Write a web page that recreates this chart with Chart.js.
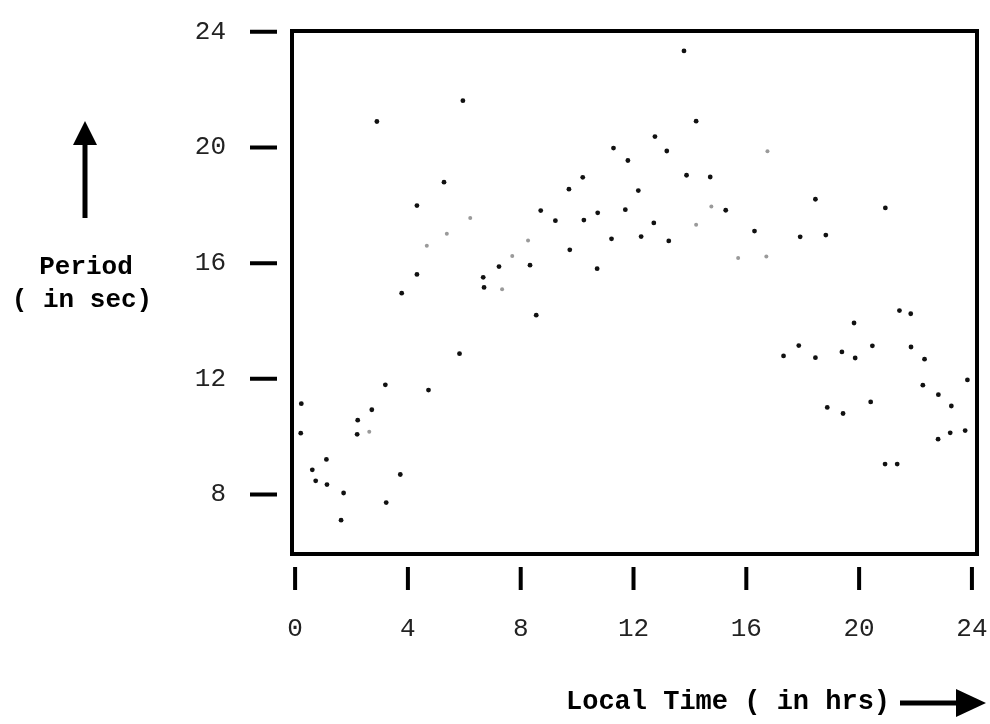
<!DOCTYPE html>
<html>
<head>
<meta charset="utf-8">
<title>Period vs Local Time</title>
<script src="https://cdn.jsdelivr.net/npm/chart.js@4.4.1/dist/chart.umd.min.js"></script>
<style>
    html, body { margin: 0; padding: 0; background: #ffffff; }
    #wrap { width: 990px; height: 724px; position: relative; }
</style>
</head>
<body>
<div id="wrap"><canvas id="periodChart"></canvas></div>
<script>
// Tick labels
const xTicks = [0, 4, 8, 12, 16, 20, 24];
const yTicks = [8, 12, 16, 20, 24];

// Dark points: local time (hrs) and period (sec)
const darkHours = [
    5.95, 2.90, 11.29, 11.80, 10.20, 9.71, 5.28, 4.32, 8.71, 9.23,
    10.24, 10.73, 11.71, 11.22, 9.74, 8.33, 10.71, 7.23, 4.32, 6.67,
    6.70, 3.78, 8.55, 5.83, 3.20, 4.73, 0.22, 2.72, 2.22, 0.20,
    2.20, 1.11, 0.61, 0.73, 1.13, 1.72, 3.73, 3.23, 1.63, 13.79,
    14.22, 12.76, 13.18, 13.88, 14.72, 12.17, 15.27, 18.45, 20.93, 12.72,
    12.27, 13.25, 16.29, 17.91, 18.82, 21.43, 21.83, 19.82, 17.86, 17.32,
    18.45, 19.39, 19.86, 20.47, 21.84, 22.32, 23.84, 22.26, 22.81, 23.27,
    20.41, 18.87, 19.43, 23.76, 23.23, 22.80, 20.92, 21.35
];
const darkPeriods = [
    21.62, 20.90, 19.98, 19.55, 18.97, 18.56, 18.80, 17.99, 17.82, 17.47,
    17.49, 17.74, 17.85, 16.84, 16.46, 15.93, 15.81, 15.88, 15.61, 15.51,
    15.16, 14.96, 14.20, 12.87, 11.79, 11.61, 11.14, 10.93, 10.57, 10.12,
    10.08, 9.21, 8.85, 8.47, 8.34, 8.05, 8.69, 7.72, 7.11, 23.34,
    20.91, 20.38, 19.88, 19.04, 18.98, 18.51, 17.83, 18.21, 17.91, 17.39,
    16.92, 16.77, 17.11, 16.91, 16.97, 14.36, 14.25, 13.93, 13.15, 12.79,
    12.73, 12.93, 12.72, 13.14, 13.10, 12.68, 11.96, 11.78, 11.45, 11.06,
    11.20, 11.01, 10.80, 10.21, 10.13, 9.91, 9.05, 9.05
];

// Faint (lightly printed) points
const faintHours = [6.21, 5.38, 4.67, 8.26, 7.70, 7.34, 2.63, 16.75, 14.76, 14.22, 15.71, 16.71];
const faintPeriods = [17.56, 17.02, 16.60, 16.78, 16.25, 15.10, 10.17, 19.87, 17.96, 17.33, 16.18, 16.23];

function toPoints(xs, ys) {
    return xs.map((x, i) => ({ x: x, y: ys[i] }));
}

const FONT = '"Liberation Mono", "DejaVu Sans Mono", monospace';

// Keep the big label padding from eating into the chart area
function clearPadding(scale) {
    scale.paddingLeft = 0;
    scale.paddingRight = 0;
    scale.paddingTop = 0;
    scale.paddingBottom = 0;
}

// Thick frame, detached tick marks, axis titles with arrows
const framePlugin = {
    id: 'frame',
    beforeDatasetsDraw(chart) {
        const ctx = chart.ctx;
        const a = chart.chartArea;
        ctx.save();
        ctx.strokeStyle = '#000';
        ctx.lineWidth = 4;
        ctx.strokeRect(a.left, a.top, a.right - a.left, a.bottom - a.top);

        // y tick dashes left of the frame
        const ys = chart.scales.y;
        ctx.lineWidth = 4;
        ctx.beginPath();
        yTicks.forEach(v => {
            const py = ys.getPixelForValue(v);
            ctx.moveTo(a.left - 42, py);
            ctx.lineTo(a.left - 15, py);
        });
        // x tick bars below the frame
        const xs = chart.scales.x;
        xTicks.forEach(v => {
            const px = xs.getPixelForValue(v);
            ctx.moveTo(px, a.bottom + 13);
            ctx.lineTo(px, a.bottom + 36);
        });
        ctx.stroke();
        ctx.restore();
    },
    afterDraw(chart) {
        const ctx = chart.ctx;
        ctx.save();
        ctx.fillStyle = '#000';
        ctx.strokeStyle = '#000';
        ctx.font = 'bold 26px ' + FONT;
        ctx.textAlign = 'center';
        ctx.textBaseline = 'middle';

        // y title
        ctx.fillText('Period', 86, 267);
        ctx.fillText('( in sec)', 82, 300);
        ctx.lineWidth = 5;
        ctx.beginPath();
        ctx.moveTo(85, 218);
        ctx.lineTo(85, 140);
        ctx.stroke();
        ctx.beginPath();
        ctx.moveTo(85, 121);
        ctx.lineTo(73, 145);
        ctx.lineTo(97, 145);
        ctx.closePath();
        ctx.fill();

        // x title
        ctx.font = 'bold 27px ' + FONT;
        ctx.textAlign = 'left';
        ctx.fillText('Local Time ( in hrs)', 566, 702);
        ctx.beginPath();
        ctx.moveTo(900, 703);
        ctx.lineTo(962, 703);
        ctx.stroke();
        ctx.beginPath();
        ctx.moveTo(986, 703);
        ctx.lineTo(956, 689);
        ctx.lineTo(956, 717);
        ctx.closePath();
        ctx.fill();
        ctx.restore();
    }
};

const ctx = document.getElementById('periodChart').getContext('2d');
const periodChart = new Chart(ctx, {
    type: 'scatter',
    data: {
        datasets: [{
            label: 'Period',
            data: toPoints(darkHours, darkPeriods),
            backgroundColor: '#111',
            borderWidth: 0,
            pointRadius: 2.4
        }, {
            label: 'Period (faint)',
            data: toPoints(faintHours, faintPeriods),
            backgroundColor: '#9a9a9a',
            borderWidth: 0,
            pointRadius: 2
        }]
    },
    options: {
        responsive: true,
        maintainAspectRatio: false,
        animation: false,
        layout: {
            padding: { left: 0, top: 31, right: 13, bottom: 0 }
        },
        plugins: {
            legend: { display: false },
            tooltip: { enabled: false }
        },
        scales: {
            x: {
                type: 'linear',
                min: -0.11,
                max: 24.18,
                afterFit: function (scale) {
                    scale.height = 170;
                    clearPadding(scale);
                },
                afterBuildTicks: function (scale) {
                    scale.ticks = xTicks.map(v => ({ value: v }));
                },
                grid: { display: false, drawTicks: false },
                border: { display: false },
                ticks: {
                    color: '#222',
                    padding: 60,
                    maxRotation: 0,
                    font: { family: FONT, size: 26 }
                }
            },
            y: {
                type: 'linear',
                min: 5.94,
                max: 24.03,
                afterFit: function (scale) {
                    scale.width = 292;
                    clearPadding(scale);
                },
                afterBuildTicks: function (scale) {
                    scale.ticks = yTicks.map(v => ({ value: v }));
                },
                grid: { display: false, drawTicks: false },
                border: { display: false },
                ticks: {
                    color: '#222',
                    padding: 66,
                    font: { family: FONT, size: 26 }
                }
            }
        }
    },
    plugins: [framePlugin]
});
</script>
</body>
</html>
